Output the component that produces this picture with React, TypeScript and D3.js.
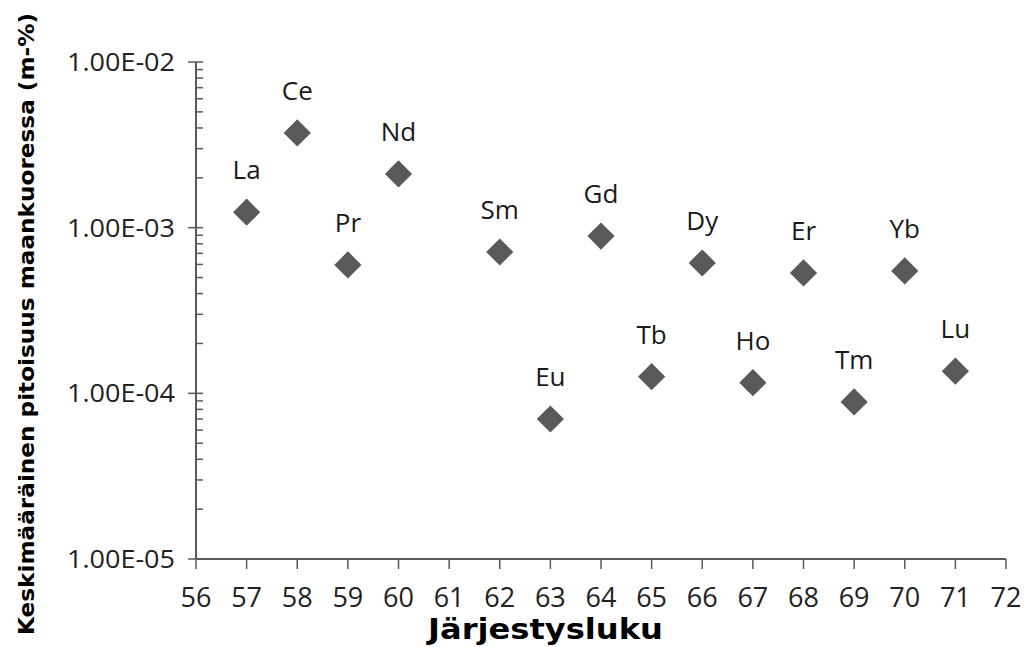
import React from "react";
import * as d3 from "d3";

const elements = ["La", "Ce", "Pr", "Nd", "Sm", "Eu", "Gd", "Tb", "Dy", "Ho", "Er", "Tm", "Yb", "Lu"];
const atomicNumbers = [57, 58, 59, 60, 62, 63, 64, 65, 66, 67, 68, 69, 70, 71];
const abundances = [1.24e-3, 3.73e-3, 5.96e-4, 2.11e-3, 7.13e-4, 7.0e-5, 8.9e-4, 1.26e-4, 6.12e-4, 1.16e-4, 5.33e-4, 8.87e-5, 5.48e-4, 1.36e-4];
const xTicks = d3.range(56, 73);
const yMajorTicks = [1e-5, 1e-4, 1e-3, 1e-2];
const yTickLabels = ["1.00E-05", "1.00E-04", "1.00E-03", "1.00E-02"];

const W = 1025;
const H = 647;
const left = 196;
const right = 1006;
const top = 62;
const bottom = 559;

export default function App() {
  const x = d3.scaleLinear().domain([56, 72]).range([left, right]);
  const y = d3.scaleLog().domain([1e-5, 1e-2]).range([bottom, top]);
  const minor: number[] = [];
  for (let e = -5; e < -2; e++) {
    for (let m = 2; m <= 9; m++) minor.push(m * Math.pow(10, e));
  }
  const axisColor = "#5a5a5a";
  const font = "'Open Sans', sans-serif";
  const diamond = d3.symbol().type(d3.symbolSquare).size(370)();
  return (
    <svg width={W} height={H} style={{ position: "absolute", left: 0, top: 0, background: "#fff" }}>
      {/* y axis */}
      <line x1={left} x2={left} y1={top} y2={bottom} stroke={axisColor} strokeWidth={2} />
      {minor.map((v, i) => (
        <line key={"m" + i} x1={left} x2={left + 7} y1={y(v)} y2={y(v)} stroke={axisColor} strokeWidth={1.5} />
      ))}
      {yMajorTicks.map((v, i) => (
        <g key={"y" + i}>
          <line x1={left - 8} x2={left + 7} y1={y(v)} y2={y(v)} stroke={axisColor} strokeWidth={1.5} />
          <text
            x={left - 129}
            y={y(v)}
            dy="0.36em"
            textLength={108}
            lengthAdjust="spacingAndGlyphs"
            fontFamily={font}
            fontSize={25}
            fill="#222"
          >
            {yTickLabels[i]}
          </text>
        </g>
      ))}
      {/* x axis */}
      <line x1={left} x2={right} y1={bottom} y2={bottom} stroke={axisColor} strokeWidth={2} />
      {xTicks.map((t) => (
        <g key={"x" + t}>
          <line x1={x(t)} x2={x(t)} y1={bottom} y2={bottom + 10} stroke={axisColor} strokeWidth={1.5} />
          <text x={x(t)} y={bottom + 48} textAnchor="middle" fontFamily={font} fontSize={27} fill="#222">
            {t}
          </text>
        </g>
      ))}
      {/* points */}
      {atomicNumbers.map((n, i) => (
        <g key={"p" + i}>
          <path d={diamond!} transform={`translate(${x(n)},${y(abundances[i])}) rotate(45)`} fill="#595959" />
          <text x={x(n)} y={y(abundances[i]) - 33} textAnchor="middle" fontFamily={font} fontSize={26} fill="#1a1a1a">
            {elements[i]}
          </text>
        </g>
      ))}
      {/* titles */}
      <text
        x={428}
        y={639}
        textLength={235}
        lengthAdjust="spacingAndGlyphs"
        fontFamily="'DejaVu Sans', sans-serif"
        fontWeight="bold"
        fontSize={28}
        fill="#000"
      >
        Järjestysluku
      </text>
      <text
        transform={`translate(34, 635) rotate(-90)`}
        textLength={622}
        lengthAdjust="spacingAndGlyphs"
        fontFamily="'DejaVu Sans', sans-serif"
        fontWeight="bold"
        fontSize={21}
        fill="#000"
      >
        Keskimääräinen pitoisuus maankuoressa (m-%)
      </text>
    </svg>
  );
}
